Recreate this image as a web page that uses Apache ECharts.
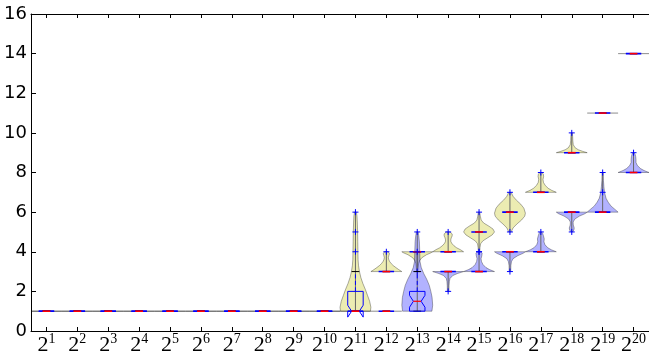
<!DOCTYPE html>
<html><head><meta charset="utf-8">
<script src="https://cdn.jsdelivr.net/npm/echarts@6/dist/echarts.min.js"></script>
<style>html,body{margin:0;padding:0;background:#fff}#c{width:649px;height:356px}</style>
</head><body><div id="c"></div><script>
// x categories: exponents of 2
const exponents = ['1','2','3','4','5','6','7','8','9','10','11','12','13','14','15','16','17','18','19','20'];
const yMin = 0, yMax = 16, yStep = 2;

// violin density profiles: [value, relative density (max 1)]
const yellowProfiles = [
  [[1,1]],[[1,1]],[[1,1]],[[1,1]],[[1,1]],[[1,1]],[[1,1]],[[1,1]],[[1,1]],[[1,1]],
  [[1,0.97],[1.2,1.0],[1.5,0.92],[1.8,0.78],[2.1,0.64],[2.4,0.48],[2.7,0.35],[3,0.26],[3.3,0.2],[3.6,0.17],[4,0.16],[4.5,0.15],[5,0.14],[5.5,0.12],[5.8,0.1],[6,0.06]],
  [[3,1.0],[3.1,0.8],[3.2,0.62],[3.3,0.45],[3.4,0.32],[3.5,0.22],[3.6,0.16],[3.7,0.13],[3.8,0.16],[3.9,0.2],[4,0.12]],
  [[3,0.04],[3.2,0.06],[3.4,0.09],[3.55,0.15],[3.7,0.3],[3.85,0.6],[3.95,0.9],[4,1.0]],
  [[4,1.0],[4.1,0.8],[4.2,0.55],[4.3,0.38],[4.4,0.26],[4.5,0.18],[4.6,0.17],[4.7,0.2],[4.8,0.26],[4.9,0.26],[5,0.12]],
  [[4,0.05],[4.2,0.06],[4.4,0.1],[4.55,0.25],[4.7,0.55],[4.85,0.85],[5,1.0],[5.15,0.9],[5.3,0.62],[5.45,0.3],[5.6,0.14],[5.8,0.08],[6,0.05]],
  [[5,0.08],[5.2,0.2],[5.4,0.45],[5.6,0.75],[5.8,0.96],[5.95,1.0],[6.2,0.9],[6.4,0.7],[6.6,0.42],[6.8,0.2],[7,0.08]],
  [[7,1.0],[7.1,0.7],[7.2,0.48],[7.35,0.28],[7.5,0.17],[7.65,0.14],[7.8,0.18],[7.92,0.16],[8,0.06]],
  [[9,1.0],[9.07,0.7],[9.15,0.42],[9.25,0.22],[9.4,0.1],[9.6,0.07],[9.8,0.06],[10,0.04]],
  [[11,1]],
  [[14,1]]
];
const blueProfiles = [
  [[1,1]],[[1,1]],[[1,1]],[[1,1]],[[1,1]],[[1,1]],[[1,1]],[[1,1]],[[1,1]],[[1,1]],[[1,1]],[[1,1]],
  [[1,0.95],[1.3,1.0],[1.7,0.96],[2,0.88],[2.3,0.78],[2.6,0.62],[2.9,0.42],[3.2,0.26],[3.5,0.18],[4,0.16],[4.5,0.14],[4.8,0.1],[5,0.06]],
  [[2,0.05],[2.3,0.06],[2.5,0.08],[2.65,0.12],[2.8,0.3],[2.9,0.6],[3,1.0]],
  [[3,1.0],[3.1,0.68],[3.2,0.45],[3.35,0.26],[3.5,0.16],[3.65,0.13],[3.8,0.18],[3.92,0.2],[4,0.1]],
  [[3,0.05],[3.3,0.06],[3.5,0.1],[3.65,0.2],[3.8,0.5],[3.92,0.85],[4,1.0]],
  [[4,1.0],[4.1,0.68],[4.2,0.45],[4.35,0.27],[4.5,0.2],[4.65,0.22],[4.8,0.17],[4.92,0.12],[5,0.05]],
  [[5,0.05],[5.1,0.14],[5.2,0.16],[5.35,0.1],[5.5,0.09],[5.65,0.2],[5.8,0.5],[5.92,0.85],[6,1.0]],
  [[6,1.0],[6.15,0.78],[6.3,0.55],[6.5,0.36],[6.7,0.22],[7,0.12],[7.3,0.08],[7.6,0.05],[8,0.04]],
  [[8,1.0],[8.1,0.68],[8.2,0.45],[8.35,0.25],[8.5,0.16],[8.65,0.16],[8.8,0.14],[8.92,0.1],[9,0.04]]
];

// box stats: [whiskerLow, q1, median, q3, whiskerHigh, notchLow, notchHigh]
const yellowBoxes = [
  [1,1,1,1,1,1,1],[1,1,1,1,1,1,1],[1,1,1,1,1,1,1],[1,1,1,1,1,1,1],[1,1,1,1,1,1,1],
  [1,1,1,1,1,1,1],[1,1,1,1,1,1,1],[1,1,1,1,1,1,1],[1,1,1,1,1,1,1],[1,1,1,1,1,1,1],
  [1,1,1,2,3,0.7,1.3],[3,3,3,3,3,3,3],[4,4,4,4,4,4,4],[4,4,4,4,4,4,4],[5,5,5,5,5,5,5],
  [6,6,6,6,6,6,6],[7,7,7,7,7,7,7],[9,9,9,9,9,9,9],[11,11,11,11,11,11,11],[14,14,14,14,14,14,14]
];
const blueBoxes = [
  [1,1,1,1,1,1,1],[1,1,1,1,1,1,1],[1,1,1,1,1,1,1],[1,1,1,1,1,1,1],[1,1,1,1,1,1,1],
  [1,1,1,1,1,1,1],[1,1,1,1,1,1,1],[1,1,1,1,1,1,1],[1,1,1,1,1,1,1],[1,1,1,1,1,1,1],
  [1,1,1,1,1,1,1],[1,1,1,1,1,1,1],[1,1,1.5,2,3,1.2,1.8],[3,3,3,3,3,3,3],[3,3,3,3,3,3,3],
  [4,4,4,4,4,4,4],[4,4,4,4,4,4,4],[6,6,6,6,6,6,6],[6,6,6,6,6,6,6],[8,8,8,8,8,8,8]
];
const yellowFliers = [[],[],[],[],[],[],[],[],[],[],[4,5,6],[4],[3],[5],[4,6],[5,7],[8],[10],[],[]];
const blueFliers = [[],[],[],[],[],[],[],[],[],[],[],[],[4,5],[2],[4],[3],[5],[5],[7,8],[9]];

const chart = echarts.init(document.getElementById('c'), null, {renderer:'canvas'});

const EDGE = 'rgba(0,0,0,0.32)';
function violinRender(profiles, fill){
  return function(params, api){
    const i = api.value(0);
    const prof = profiles[i];
    const half = api.size([1,0])[0] / 2;
    const cx = api.coord([i, 0])[0];
    if (prof.length === 1){
      const y = api.coord([i, prof[0][0]])[1];
      return {type:'line', shape:{x1:cx-half*prof[0][1], y1:y, x2:cx+half*prof[0][1], y2:y},
              style:{stroke:'rgba(0,0,0,0.45)', lineWidth:1}};
    }
    const right = prof.map(p => [cx + half*p[1], api.coord([i, p[0]])[1]]);
    const left = prof.slice().reverse().map(p => [cx - half*p[1], api.coord([i, p[0]])[1]]);
    const yTop = api.coord([i, prof[prof.length-1][0]])[1];
    const yBot = api.coord([i, prof[0][0]])[1];
    return {type:'group', children:[
      {type:'polygon', shape:{points:right.concat(left)}, style:{fill:fill, stroke:EDGE, lineWidth:1}},
      {type:'line', shape:{x1:cx, y1:yBot, x2:cx, y2:yTop}, style:{stroke:'#666', lineWidth:1}}
    ]};
  };
}
function boxRender(boxes, fliers){
  return function(params, api){
    const i = api.value(0);
    const [wlo,q1,med,q3,whi,nlo,nhi] = boxes[i];
    const cx = api.coord([i, 0])[0];
    const bw = api.size([1,0])[0] * 0.25;
    const nw = bw/2;
    const Y = v => api.coord([i, v])[1];
    const ch = [];
    const ln = (x1,y1,x2,y2,style) => ch.push({type:'line', shape:{x1,y1,x2,y2}, style:Object.assign({lineWidth:1, fill:null}, style)});
    if (whi > q3) ln(cx, Y(q3), cx, Y(whi), {stroke:'#0000ff', lineDash:[4,2.5]});
    if (wlo < q1) ln(cx, Y(q1), cx, Y(wlo), {stroke:'#0000ff', lineDash:[4,2.5]});
    ln(cx-nw, Y(whi), cx+nw, Y(whi), {stroke:'#000'});
    ln(cx-nw, Y(wlo), cx+nw, Y(wlo), {stroke:'#000'});
    const L = cx-bw, R = cx+bw;
    const flat = (q1 === q3);
    ch.push({type:'polyline', shape:{points:[[L,Y(q1)],[L,Y(nlo)],[L+nw,Y(med)],[L,Y(nhi)],[L,Y(q3)],[R,Y(q3)],[R,Y(nhi)],[R-nw,Y(med)],[R,Y(nlo)],[R,Y(q1)],[L,Y(q1)]]},
             style:{stroke:'#0000ff', lineWidth:flat ? 1.6 : 1, fill:null}});
    ln(L+nw, Y(med), R-nw, Y(med), {stroke:'#ff0000', lineWidth:flat ? 1.6 : 1.2});
    fliers[i].forEach(v => {
      const y = Y(v);
      ln(cx-3, y, cx+3, y, {stroke:'#0000ff', lineWidth:1});
      ln(cx, y-3, cx, y+3, {stroke:'#0000ff', lineWidth:1});
    });
    return {type:'group', children:ch};
  };
}
const idxData = (boxes) => boxes.map((b, i) => [i, b[2]]);

chart.setOption({
  animation:false,
  grid:{left:31, top:14, right:-6, bottom:25, show:false},
  xAxis:[{
    type:'category', data:exponents, boundaryGap:true, position:'bottom',
    axisLine:{show:true, lineStyle:{color:'#000', width:1}},
    axisTick:{show:true, inside:true, alignWithLabel:true, length:4, lineStyle:{color:'#000'}},
    axisLabel:{margin:1, interval:0, color:'#000',
      formatter: v => '{b|2}{s|' + v + '}',
      rich:{
        b:{fontFamily:'Liberation Serif', fontSize:22, lineHeight:24, color:'#000', verticalAlign:'bottom'},
        s:{fontFamily:'Liberation Serif', fontSize:14, lineHeight:24, color:'#000', verticalAlign:'top'}
      }},
    splitLine:{show:false}
  },{
    type:'category', data:exponents, boundaryGap:true, position:'top',
    axisLine:{show:true, lineStyle:{color:'#000', width:1}},
    axisTick:{show:true, inside:true, alignWithLabel:true, length:4, lineStyle:{color:'#000'}},
    axisLabel:{show:false}, splitLine:{show:false}
  }],
  yAxis:{
    type:'value', min:yMin, max:yMax, interval:yStep,
    axisLine:{show:true, lineStyle:{color:'#000', width:1}},
    axisTick:{show:true, inside:true, length:5, lineStyle:{color:'#000'}},
    axisLabel:{fontFamily:'DejaVu Sans', fontSize:18, color:'#000', margin:4},
    splitLine:{show:false}
  },
  series:[
    {type:'custom', renderItem:violinRender(yellowProfiles, 'rgba(191,191,0,0.3)'), data:idxData(yellowBoxes), encode:{x:0,y:1}, z:2, clip:false},
    {type:'custom', renderItem:violinRender(blueProfiles, 'rgba(0,0,255,0.3)'), data:idxData(blueBoxes), encode:{x:0,y:1}, z:3, clip:false},
    {type:'custom', renderItem:boxRender(yellowBoxes, yellowFliers), data:idxData(yellowBoxes), encode:{x:0,y:1}, z:4, clip:false},
    {type:'custom', renderItem:boxRender(blueBoxes, blueFliers), data:idxData(blueBoxes), encode:{x:0,y:1}, z:5, clip:false}
  ]
});
</script></body></html>
